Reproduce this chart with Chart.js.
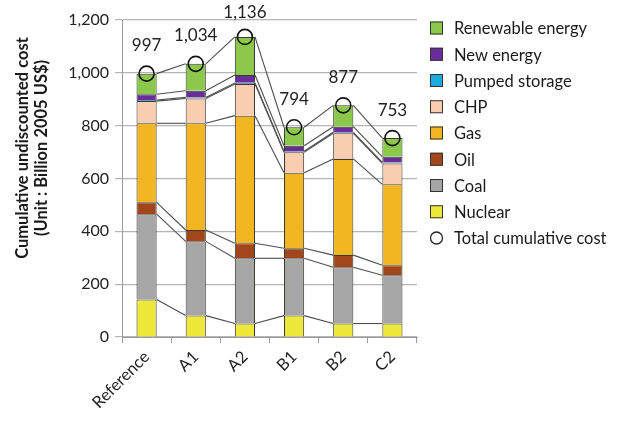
<!DOCTYPE html>
<html>
<head>
<meta charset="utf-8">
<script src="https://cdn.jsdelivr.net/npm/chart.js@4.4.1/dist/chart.umd.min.js"></script>
<style>
  html, body { margin: 0; padding: 0; background: #ffffff; }
  #wrap { position: relative; width: 622px; height: 423px; }
</style>
</head>
<body>
<div id="wrap"><canvas id="chart" width="622" height="423"></canvas></div>
<script>
// Scenarios on the category axis
const scenarios = ['Reference', 'A1', 'A2', 'B1', 'B2', 'C2'];

// Cumulative undiscounted cost by source (Billion 2005 US$)
const nuclear   = [142,  81,  51,  81,  51,  51];
const coal      = [323, 281, 247, 217, 213, 183];
const oil       = [ 45,  43,  57,  38,  46,  38];
const gas       = [299, 404, 483, 286, 364, 306];
const chp       = [ 84,  94, 120,  77,  97,  79];
const pumped    = [  4,   4,   4,   4,   4,   4];
const newEnergy = [ 22,  25,  30,  21,  21,  21];
const renewable = [ 78, 102, 144,  70,  81,  71];

// Total cumulative cost per scenario
const totals = [997, 1034, 1136, 794, 877, 753];

// Value axis ticks
const yTicks = [0, 200, 400, 600, 800, 1000, 1200];

const yTitle = ['Cumulative undiscounted cost', '(Unit : Billion 2005 US$)'];

const FONT = 'Lato, "Open Sans", sans-serif';
const EDGE = '#3b3a33';

function barSet(label, data, color) {
  return {
    type: 'bar', label, data,
    backgroundColor: color, borderColor: EDGE, borderWidth: 1,
    stack: 'cost', barPercentage: 0.41, categoryPercentage: 1.0, order: 2
  };
}

const barDatasets = [
  barSet('Nuclear', nuclear, '#EEE83A'),
  barSet('Coal', coal, '#A6A6A6'),
  barSet('Oil', oil, '#A2471C'),
  barSet('Gas', gas, '#F2B622'),
  barSet('CHP', chp, '#F9CDB0'),
  barSet('Pumped storage', pumped, '#1EA9E1'),
  barSet('New energy', newEnergy, '#6B2C9B'),
  barSet('Renewable energy', renewable, '#8CC84B')
];

const totalDataset = {
  type: 'line', label: 'Total cumulative cost', data: totals,
  showLine: false, pointStyle: 'circle', pointRadius: 7.5, pointHoverRadius: 7.5,
  pointBorderWidth: 1.6, pointBorderColor: '#111111', pointBackgroundColor: 'rgba(0,0,0,0)',
  borderColor: '#111111', backgroundColor: 'rgba(0,0,0,0)', order: 1
};

// Lines joining each stack boundary from one bar's right edge to the next bar's left edge
const connectorPlugin = {
  id: 'connectors',
  beforeDatasetsDraw(chart) {
    const { ctx } = chart;
    const yScale = chart.scales.y;
    const metas = barDatasets.map((_, i) => chart.getDatasetMeta(i));
    const n = scenarios.length;
    ctx.save();
    ctx.strokeStyle = '#4e4e4e';
    ctx.lineWidth = 1.1;
    const cum = new Array(n).fill(0);
    barDatasets.forEach((ds, di) => {
      for (let k = 0; k < n; k++) cum[k] += ds.data[k];
      for (let k = 0; k < n - 1; k++) {
        const a = metas[di].data[k], b = metas[di].data[k + 1];
        ctx.beginPath();
        ctx.moveTo(a.x + a.width / 2, yScale.getPixelForValue(cum[k]));
        ctx.lineTo(b.x - b.width / 2, yScale.getPixelForValue(cum[k + 1]));
        ctx.stroke();
      }
    });
    ctx.restore();
  }
};

// Total value printed above each circle
const totalLabelPlugin = {
  id: 'totalLabels',
  afterDatasetsDraw(chart) {
    const { ctx } = chart;
    const meta = chart.getDatasetMeta(barDatasets.length);
    ctx.save();
    ctx.font = '17px ' + FONT;
    ctx.fillStyle = '#222222';
    ctx.textAlign = 'center';
    ctx.textBaseline = 'middle';
    meta.data.forEach((pt, i) => {
      const y = Math.max(pt.y - 28, 13);
      ctx.fillText(totals[i].toLocaleString('en-US'), pt.x, y);
    });
    ctx.restore();
  }
};

// Axis title and legend drawn to the side of the plot
const sidePlugin = {
  id: 'side',
  afterDraw(chart) {
    const { ctx } = chart;
    ctx.save();
    // vertical axis title
    ctx.fillStyle = '#1a1a1a';
    ctx.font = 'bold 16.5px ' + FONT;
    ctx.textAlign = 'center';
    ctx.textBaseline = 'middle';
    [[23, yTitle[0]], [42, yTitle[1]]].forEach(([x, t]) => {
      ctx.save();
      ctx.translate(x, 148);
      ctx.rotate(-Math.PI / 2);
      ctx.fillText(t, 0, 0);
      ctx.restore();
    });

    // legend, top entry is the top of the stack
    const items = barDatasets.slice().reverse().concat([totalDataset]);
    ctx.font = '16.5px ' + FONT;
    ctx.textAlign = 'left';
    items.forEach((ds, i) => {
      const cy = 28 + i * 26.25;
      if (ds.type === 'line') {
        ctx.beginPath();
        ctx.arc(436.5, cy, 6, 0, Math.PI * 2);
        ctx.strokeStyle = '#222222';
        ctx.lineWidth = 1.3;
        ctx.stroke();
      } else {
        ctx.fillStyle = ds.backgroundColor;
        ctx.fillRect(430, cy - 6.5, 13, 13);
        ctx.strokeStyle = '#333333';
        ctx.lineWidth = 1;
        ctx.strokeRect(430.5, cy - 6, 12, 12);
      }
      ctx.fillStyle = '#1a1a1a';
      ctx.fillText(ds.label, 454, cy + 1);
    });
    ctx.restore();
  }
};

new Chart(document.getElementById('chart'), {
  data: {
    labels: scenarios,
    datasets: barDatasets.concat([totalDataset])
  },
  options: {
    responsive: false,
    animation: false,
    events: [],
    layout: { padding: { top: 20, right: 205, bottom: 0, left: 0 } },
    plugins: { legend: { display: false }, tooltip: { enabled: false } },
    scales: {
      x: {
        stacked: true,
        offset: true,
        grid: { offset: true, drawOnChartArea: false, tickLength: 6, color: '#9a9a9a' },
        border: { color: '#9a9a9a', width: 1 },
        ticks: { color: '#222222', font: { family: FONT, size: 16.5 }, minRotation: 45, maxRotation: 45, padding: 4 },
        afterFit(scale) { scale.height = 86; }
      },
      y: {
        stacked: true,
        min: 0, max: 1200,
        afterBuildTicks(scale) { scale.ticks = yTicks.map(v => ({ value: v })); },
        grid: { color: '#b5b5b5', lineWidth: 1.2, tickLength: 7 },
        border: { color: '#9a9a9a', width: 1 },
        ticks: {
          color: '#222222', font: { family: FONT, size: 16 }, padding: 6,
          callback: v => v.toLocaleString('en-US')
        },
        afterFit(scale) { scale.width = 122; }
      }
    }
  },
  plugins: [connectorPlugin, totalLabelPlugin, sidePlugin]
});
</script>
</body>
</html>
